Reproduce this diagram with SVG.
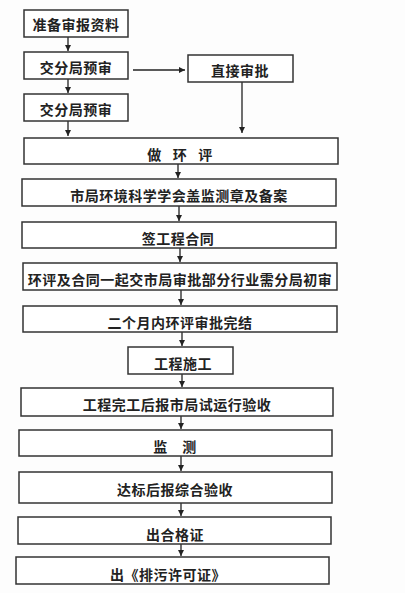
<svg xmlns="http://www.w3.org/2000/svg" width="405" height="593" viewBox="0 0 405 593">
<defs>
<marker id="ah" viewBox="0 0 8 8" refX="8" refY="4" markerWidth="6" markerHeight="6" markerUnits="userSpaceOnUse" orient="auto">
<path d="M0,0 L8,4 L0,8 z" fill="#222"/>
</marker>
<style>
rect{fill:#fff;stroke:#333;stroke-width:1.5}
text{font-family:"Noto Sans CJK SC","Liberation Sans",sans-serif;font-size:14px;font-weight:bold;fill:#222;text-anchor:middle;dominant-baseline:central;letter-spacing:0.5px}
.c line{stroke:#222;stroke-width:1.3;marker-end:url(#ah)}
</style>
</defs>
<rect x="0" y="0" width="405" height="593" style="fill:#fdfdfd;stroke:none"/>
<g class="c" id="connectors">
<line x1="68" y1="37" x2="68" y2="51"/>
<line x1="133" y1="70" x2="185" y2="70"/>
<line x1="68" y1="79" x2="68" y2="93"/>
<line x1="68" y1="121" x2="68" y2="136"/>
<line x1="242" y1="82" x2="242" y2="133"/>
<line x1="178" y1="164" x2="178" y2="178"/>
<line x1="179" y1="206" x2="179" y2="221"/>
<line x1="180" y1="248" x2="180" y2="262"/>
<line x1="181" y1="290" x2="181" y2="305"/>
<line x1="182" y1="332" x2="182" y2="346"/>
<line x1="182" y1="374" x2="182" y2="387"/>
<line x1="181" y1="416" x2="181" y2="429"/>
<line x1="181" y1="456" x2="181" y2="471"/>
<line x1="181" y1="503" x2="181" y2="516"/>
<line x1="181" y1="544" x2="181" y2="556"/>
</g>
<g id="n1"><rect x="24" y="10" width="104" height="27"/><text x="76" y="24">准备审报资料</text></g>
<g id="n2"><rect x="24" y="52" width="104" height="27"/><text x="76" y="67">交分局预审</text></g>
<g id="n3"><rect x="188" y="55" width="105" height="27"/><text x="240" y="70">直接审批</text></g>
<g id="n4"><rect x="24" y="94" width="104" height="27"/><text x="76" y="109">交分局预审</text></g>
<g id="n5"><rect x="24" y="138" width="314" height="26"/><text x="180" y="154" xml:space="preserve">做   环   评</text></g>
<g id="n6"><rect x="22" y="179" width="314" height="27"/><text x="179" y="195">市局环境科学学会盖监测章及备案</text></g>
<g id="n7"><rect x="22" y="222" width="314" height="26"/><text x="178" y="238">签工程合同</text></g>
<g id="n8"><rect x="23" y="263" width="314" height="27"/><text x="180" y="279">环评及合同一起交市局审批部分行业需分局初审</text></g>
<g id="n9"><rect x="23" y="306" width="314" height="26"/><text x="180" y="322">二个月内环评审批完结</text></g>
<g id="n10"><rect x="128" y="347" width="105" height="27"/><text x="183" y="363">工程施工</text></g>
<g id="n11"><rect x="21" y="388" width="312" height="28"/><text x="177" y="404">工程完工后报市局试运行验收</text></g>
<g id="n12"><rect x="19" y="430" width="313" height="26"/><text x="175" y="446" xml:space="preserve">监    测</text></g>
<g id="n13"><rect x="19" y="472" width="313" height="31"/><text x="175" y="489">达标后报综合验收</text></g>
<g id="n14"><rect x="18" y="517" width="313" height="27"/><text x="175" y="534">出合格证</text></g>
<g id="n15"><rect x="16" y="557" width="313" height="27"/><text x="168" y="574">出《排污许可证》</text></g>
</svg>
